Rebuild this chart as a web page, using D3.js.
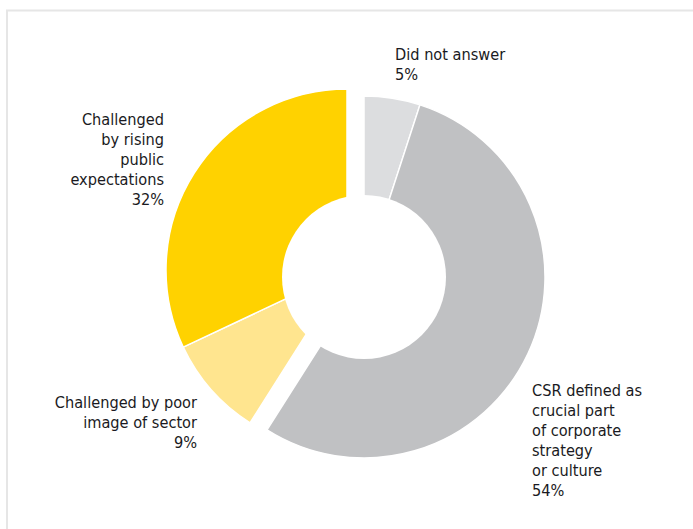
<!DOCTYPE html>
<html>
<head>
<meta charset="utf-8">
<script src="https://cdn.jsdelivr.net/npm/d3@7"></script>
<style>
  html, body { margin: 0; padding: 0; background: #fff; }
  svg { display: block; }
  text { font-family: "DejaVu Sans Condensed", "DejaVu Sans", sans-serif; font-size: 16.2px; fill: #1a1a22; }
</style>
</head>
<body>
<svg id="chart" width="693" height="529"></svg>
<script>
// ---- data ----
const categories = [
  "Did not answer",
  "CSR defined as crucial part of corporate strategy or culture",
  "Challenged by poor image of sector",
  "Challenged by rising public expectations"
];
const values = [5, 54, 9, 32];
const labelLines = [
  ["Did not answer"],
  ["CSR defined as", "crucial part", "of corporate", "strategy", "or culture"],
  ["Challenged by poor", "image of sector"],
  ["Challenged", "by rising", "public", "expectations"]
];
const colors = ["#dcdddf", "#c0c1c3", "#ffe58f", "#ffd200"];
// which slices belong to the pulled-out group
const exploded = [false, false, true, true];

// ---- layout ----
const W = 693, H = 529;
const cx = 364, cy = 277;
const outerR = 181, holeR = 82;
const explodeOffset = { dx: -17, dy: -7 };
const labelPos = [
  { x: 395, y: 60, anchor: "start" },
  { x: 532, y: 396, anchor: "start" },
  { x: 197, y: 408, anchor: "end" },
  { x: 164, y: 125, anchor: "end" }
];
const lineH = 20;

const svg = d3.select("#chart");

// frame
svg.append("path")
  .attr("d", `M7,${H} L7,10.5 L${W},10.5`)
  .attr("fill", "none")
  .attr("stroke", "#e6e6e6")
  .attr("stroke-width", 2);

const data = categories.map((c, i) => ({ cat: c, value: values[i], i }));
const pie = d3.pie().sort(null).value(d => d.value);
const arcs = pie(data);
const arc = d3.arc().innerRadius(0).outerRadius(outerR);

svg.append("g").selectAll("path")
  .data(arcs)
  .join("path")
  .attr("transform", d => exploded[d.data.i]
      ? `translate(${cx + explodeOffset.dx},${cy + explodeOffset.dy})`
      : `translate(${cx},${cy})`)
  .attr("d", arc)
  .attr("fill", d => colors[d.data.i])
  .attr("stroke", "#fff")
  .attr("stroke-width", 1.5)
  .attr("stroke-linejoin", "round");

// donut hole
svg.append("circle")
  .attr("cx", cx).attr("cy", cy).attr("r", holeR)
  .attr("fill", "#fff");

// labels
const fmt = v => v + "%";
data.forEach((d, i) => {
  const p = labelPos[i];
  const t = svg.append("text")
    .attr("x", p.x).attr("y", p.y)
    .attr("text-anchor", p.anchor);
  const lines = labelLines[i].concat([fmt(d.value)]);
  lines.forEach((ln, k) => {
    t.append("tspan").attr("x", p.x).attr("y", p.y + k * lineH).text(ln);
  });
});
</script>
</body>
</html>
